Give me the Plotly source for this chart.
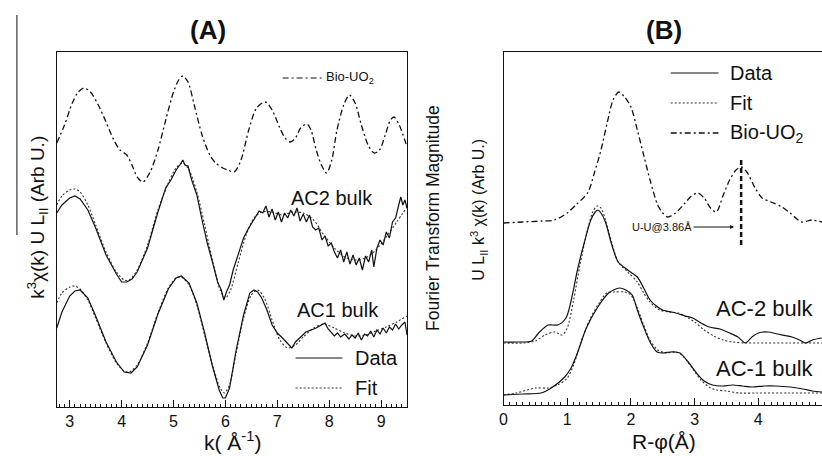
import plotly.graph_objects as go

W, H = 822, 456

# ---------------- Panel A : k^3 chi(k) ----------------
k_bio = [2.75, 2.9, 3.05, 3.15, 3.27, 3.4, 3.55, 3.7, 3.85, 3.97, 4.1, 4.2, 4.3, 4.41, 4.55, 4.7, 4.85, 5.0, 5.1, 5.18,
         5.28, 5.4, 5.55, 5.7, 5.81, 5.95, 6.05, 6.17, 6.3, 6.45, 6.6, 6.77, 6.9, 7.05, 7.15, 7.25, 7.35, 7.45, 7.57,
         7.65, 7.75, 7.85, 7.95, 8.05, 8.15, 8.28, 8.39, 8.5, 8.62, 8.75, 8.87, 8.97, 9.08, 9.18, 9.25, 9.35, 9.5]
chi_bio = [264, 282, 304, 314, 319, 315, 302, 285, 267, 257, 252, 242, 230, 225, 235, 257, 287, 315, 327, 331,
           325, 302, 272, 252, 244, 239, 237, 235, 247, 277, 299, 305, 297, 279, 269, 265, 269, 279, 283,
           277, 257, 242, 234, 247, 277, 302, 312, 304, 282, 262, 254, 257, 272, 287, 290, 282, 260]

k_ac2_fit = [2.75, 2.85, 3.0, 3.1, 3.2, 3.35, 3.5, 3.7, 3.9, 4.05, 4.15, 4.3, 4.5, 4.7, 4.9, 5.05, 5.18, 5.3, 5.45,
             5.6, 5.75, 5.9, 6.0, 6.1, 6.25, 6.4, 6.55, 6.7, 6.9, 7.1, 7.3, 7.5, 7.7, 7.9, 8.1, 8.3, 8.5, 8.7, 8.9,
             9.1, 9.3, 9.5]
chi_ac2_fit = [202, 211, 217, 218, 215, 202, 182, 155, 135, 127, 127, 137, 162, 197, 224, 239, 244, 237, 215,
               182, 147, 117, 109, 117, 145, 172, 189, 195, 195, 192, 195, 194, 187, 172, 159, 150, 147, 149, 157,
               170, 185, 200]

k_ac2_data = [2.75, 2.85, 3.0, 3.1, 3.2, 3.35, 3.5, 3.7, 3.9, 4.0, 4.1, 4.2, 4.3, 4.5, 4.7, 4.85, 4.95, 5.05, 5.12,
              5.18, 5.22, 5.28, 5.35, 5.45, 5.55, 5.65, 5.75, 5.85, 5.92, 5.97, 6.02, 6.08, 6.15, 6.25, 6.35, 6.45,
              6.55, 6.65, 6.72, 6.78, 6.84, 6.9, 6.96, 7.02, 7.08, 7.14, 7.2, 7.26, 7.32, 7.38, 7.44, 7.5, 7.56,
              7.62, 7.68, 7.74, 7.8, 7.86, 7.92, 7.98, 8.04, 8.1, 8.16, 8.22, 8.28, 8.34, 8.4, 8.46, 8.52, 8.58,
              8.64, 8.7, 8.76, 8.82, 8.86, 8.92, 8.98, 9.04, 9.1, 9.16, 9.22, 9.28, 9.34, 9.38, 9.42, 9.46, 9.5]
chi_ac2_data = [194, 202, 209, 211, 208, 197, 179, 152, 133, 125, 125, 128, 135, 159, 195, 219, 227, 237, 242,
                247, 242, 241, 227, 212, 187, 164, 145, 125, 117, 107, 115, 122, 137, 152, 169, 179,
                187, 196, 194, 201, 190, 198, 187, 195, 185, 194, 189, 197, 191, 199, 186, 193, 185,
                192, 180, 177, 179, 167, 171, 161, 164, 155, 149, 157, 145, 155, 143, 152, 142, 149,
                137, 151, 145, 157, 140, 159, 167, 162, 175, 169, 185, 189, 202, 210, 202, 207, 199]

k_ac1_fit = [2.75, 2.85, 3.0, 3.1, 3.2, 3.35, 3.5, 3.7, 3.9, 4.05, 4.15, 4.3, 4.5, 4.7, 4.9, 5.05, 5.15, 5.3, 5.45,
             5.6, 5.75, 5.9, 5.98, 6.08, 6.2, 6.35, 6.5, 6.62, 6.75, 6.9, 7.05, 7.2, 7.35, 7.5, 7.7, 7.9, 8.1, 8.3,
             8.5, 8.7, 8.9, 9.1, 9.3, 9.5]
chi_ac1_fit = [104, 114, 120, 121, 118, 107, 89, 64, 44, 36, 35, 42, 64, 94, 119, 129, 130, 122, 102,
               72, 42, 19, 14, 22, 52, 89, 112, 117, 109, 87, 67, 59, 62, 70, 79, 83, 79, 74,
               71, 72, 76, 80, 85, 91]

k_ac1_data = [2.75, 2.85, 3.0, 3.1, 3.2, 3.35, 3.5, 3.7, 3.9, 4.05, 4.18, 4.3, 4.5, 4.7, 4.9, 5.05, 5.15, 5.3, 5.45,
              5.6, 5.75, 5.88, 5.95, 6.0, 6.08, 6.2, 6.35, 6.47, 6.55, 6.62, 6.7, 6.8, 6.9, 7.0, 7.1, 7.2, 7.28,
              7.35, 7.45, 7.55, 7.65, 7.75, 7.85, 7.92, 7.98, 8.04, 8.1, 8.16, 8.22, 8.3, 8.38, 8.44, 8.5, 8.56,
              8.62, 8.68, 8.74, 8.8, 8.86, 8.92, 8.98, 9.04, 9.1, 9.16, 9.22, 9.28, 9.34, 9.4, 9.46, 9.5]
chi_ac1_data = [79, 95, 111, 116, 117, 109, 91, 65, 45, 35, 34, 40, 62, 93, 118, 129, 131, 124, 104,
                74, 41, 17, 9, 9, 19, 55, 92, 114, 117, 115, 109, 97, 82, 74, 69, 64, 59,
                65, 70, 75, 77, 79, 82, 84, 78, 75, 71, 74, 70, 73, 68, 72, 69, 74,
                67, 73, 71, 76, 70, 77, 73, 79, 74, 80, 77, 83, 78, 82, 85, 72]

k_ticks = [3, 4, 5, 6, 7, 8, 9]

# ---------------- Panel B : Fourier transform magnitude ----------------
r_bio = [0, 0.3, 0.6, 0.8, 1.0, 1.15, 1.32, 1.43, 1.53, 1.63, 1.72, 1.81, 1.9, 2.0, 2.1, 2.2, 2.3, 2.42, 2.5, 2.58,
         2.7, 2.85, 2.95, 3.05, 3.15, 3.25, 3.34, 3.45, 3.55, 3.65, 3.73, 3.82, 3.95, 4.06, 4.2, 4.37, 4.5, 4.68,
         4.84, 5.0]
ft_bio = [182, 183, 184, 185, 192, 201, 212, 233, 255, 283, 305, 313, 308, 298, 275, 250, 225, 200, 192, 188,
          192, 202, 209, 212, 207, 197, 193, 210, 225, 235, 238, 233, 217, 207, 203, 198, 192, 183,
          185, 183]

r_ac2_data = [0, 0.2, 0.44, 0.55, 0.7, 0.85, 0.98, 1.08, 1.16, 1.27, 1.37, 1.44, 1.48, 1.53, 1.6, 1.7, 1.8, 1.95,
              2.1, 2.2, 2.3, 2.4, 2.5, 2.7, 2.85, 2.97, 3.1, 3.23, 3.4, 3.55, 3.68, 3.8, 3.9, 4.0, 4.15, 4.3,
              4.53, 4.65, 4.74, 4.85, 5.0]
ft_ac2_data = [63, 63, 64, 72, 80, 80, 87, 110, 135, 163, 185, 193, 195, 192, 183, 160, 143, 135,
               128, 117, 105, 99, 95, 92, 89, 87, 82, 78, 76, 72, 68, 62, 68, 72, 73, 71,
               68, 65, 62, 65, 67]

r_ac2_fit = [0, 0.3, 0.5, 0.65, 0.8, 0.92, 1.0, 1.1, 1.2, 1.3, 1.4, 1.47, 1.53, 1.6, 1.7, 1.8, 1.95, 2.1, 2.2,
             2.3, 2.45, 2.6, 2.75, 2.9, 3.0, 3.15, 3.3, 3.45, 3.6, 3.8, 4.0, 4.5, 5.0]
ft_ac2_fit = [62, 62, 64, 70, 73, 70, 77, 105, 140, 170, 193, 199, 197, 185, 162, 143, 133, 123, 112,
              103, 95, 93, 92, 87, 83, 75, 69, 65, 63, 62, 62, 62, 62]

r_ac1_data = [0, 0.3, 0.59, 0.75, 0.96, 1.06, 1.16, 1.3, 1.48, 1.65, 1.82, 1.92, 2.02, 2.1, 2.2, 2.3, 2.41, 2.5,
              2.61, 2.7, 2.77, 2.9, 3.03, 3.15, 3.28, 3.45, 3.59, 3.75, 3.9, 4.1, 4.27, 4.5, 4.7, 4.85, 5.0]
ft_ac1_data = [10, 11, 12, 17, 28, 37, 52, 77, 98, 112, 117, 115, 110, 95, 78, 63, 53, 52,
               53, 53, 52, 43, 32, 24, 20, 19, 20, 19, 18, 19, 19, 18, 16, 14, 13]

r_ac1_fit = [0, 0.2, 0.5, 0.7, 0.85, 1.0, 1.1, 1.2, 1.35, 1.5, 1.62, 1.75, 1.9, 2.0, 2.1, 2.2, 2.3, 2.42, 2.55,
             2.7, 2.8, 2.95, 3.1, 3.25, 3.35, 3.5, 3.7, 4.0, 4.5, 5.0]
ft_ac1_fit = [10, 12, 17, 17, 20, 27, 40, 60, 85, 102, 112, 113, 113, 110, 97, 80, 65, 55, 52,
              53, 50, 38, 25, 17, 15, 14, 12, 12, 12, 12]

r_ticks = [0, 1, 2, 3, 4, 5]
uu_marker_r = 3.73
uu_marker_span = [160, 245]
uu_arrow_point = [3.62, 178]

FONT = "Liberation Sans"
BLACK = "#111111"
SOLID = dict(color=BLACK, width=1.2)
FIT = dict(color="#333333", width=1.1, dash="2px,2px")
DASHDOT = dict(color=BLACK, width=1.3, dash="6px,3px,2px,3px")


def px(x):
    return x / W


def py(y):
    return 1 - y / H


fig = go.Figure()

def add(x, y, line, xa, ya, shape="spline"):
    ln = dict(**line, shape=shape)
    if shape == "spline":
        ln["smoothing"] = 0.8
    fig.add_trace(go.Scatter(x=x, y=y, mode="lines", line=ln,
                             xaxis=xa, yaxis=ya, showlegend=False, hoverinfo="skip"))

# Panel A
add(k_bio, chi_bio, DASHDOT, "x", "y")
add(k_ac2_fit, chi_ac2_fit, FIT, "x", "y")
add(k_ac2_data, chi_ac2_data, SOLID, "x", "y", shape="linear")
add(k_ac1_fit, chi_ac1_fit, FIT, "x", "y")
add(k_ac1_data, chi_ac1_data, SOLID, "x", "y", shape="linear")

# Panel B
add(r_bio, ft_bio, DASHDOT, "x2", "y2")
add(r_ac2_fit, ft_ac2_fit, FIT, "x2", "y2")
add(r_ac2_data, ft_ac2_data, SOLID, "x2", "y2")
add(r_ac1_fit, ft_ac1_fit, FIT, "x2", "y2")
add(r_ac1_data, ft_ac1_data, SOLID, "x2", "y2")

axis_common = dict(showgrid=False, zeroline=False, showline=True, linecolor=BLACK, linewidth=1)
minor = dict(dtick=0.1, ticks="inside", ticklen=3, tickcolor=BLACK)

fig.update_layout(
    width=W, height=H, margin=dict(l=0, r=0, t=0, b=0),
    paper_bgcolor="white", plot_bgcolor="white",
    font=dict(family=FONT, color=BLACK),
    xaxis=dict(**axis_common, domain=[px(53), px(405)], range=[2.75, 9.5], anchor="y",
               tickvals=k_ticks, ticks="inside", ticklen=7, tickcolor=BLACK, mirror=True,
               minor=minor, tickfont=dict(size=16)),
    yaxis=dict(**axis_common, domain=[py(407), py(52)], range=[0, 355], anchor="x",
               showticklabels=False, ticks="", mirror=True),
    xaxis3=dict(showgrid=False, zeroline=False, showline=False, overlaying="x", side="top", anchor="y",
                range=[2.75, 9.5], tickvals=k_ticks, ticks="inside", ticklen=6, tickcolor=BLACK,
                minor=minor, showticklabels=False),
    xaxis2=dict(**axis_common, domain=[px(502), 1.0], range=[0, 5], anchor="y2",
                tickvals=r_ticks, ticks="inside", ticklen=7, tickcolor=BLACK, mirror=True,
                minor=minor, tickfont=dict(size=16)),
    xaxis4=dict(showgrid=False, zeroline=False, showline=False, overlaying="x2", side="top", anchor="y2",
                range=[0, 5], tickvals=r_ticks, ticks="inside", ticklen=6, tickcolor=BLACK,
                minor=minor, showticklabels=False),
    yaxis2=dict(**axis_common, domain=[py(405), py(52)], range=[0, 353], anchor="x2",
                showticklabels=False, ticks=""),
)

ann = []
def text(x, y, s, size, angle=0, xanchor="center"):
    ann.append(dict(x=px(x), y=py(y), xref="paper", yref="paper", text=s, showarrow=False,
                    font=dict(size=size, family=FONT, color=BLACK), textangle=angle,
                    xanchor=xanchor, yanchor="middle"))

# Titles
text(205, 30, "<b>(A)</b>", 26)
text(663, 30, "<b>(B)</b>", 26)
# Axis titles
text(230, 441, "k( Å<sup>-1</sup>)", 21)
text(663, 441, "R-φ(Å)", 21)
text(33, 217, "k<sup>3</sup>χ(k) U L<sub>II</sub> (Arb U.)", 19, angle=-90)
text(431, 218, "Fourier Transform Magnitude", 17.5, angle=-90)
text(477, 210, "U L<sub>II</sub> k<sup>3</sup> χ(k) (Arb U.)", 16, angle=-90)
# Curve labels
text(330, 198, "AC2 bulk", 20)
text(336, 310, "AC1 bulk", 20)
text(765, 308, "AC-2 bulk", 22)
text(765, 368, "AC-1 bulk", 22)

# Legends (left panel)
text(322, 78, "Bio-UO<sub>2</sub>", 13, xanchor="left")
text(351, 358, "Data", 20, xanchor="left")
text(351, 388, "Fit", 20, xanchor="left")
# Legends (right panel)
text(728, 73, "Data", 20, xanchor="left")
text(728, 103, "Fit", 20, xanchor="left")
text(728, 133, "Bio-UO<sub>2</sub>", 20, xanchor="left")

# U-U annotation with arrow
ann.append(dict(x=uu_arrow_point[0], y=uu_arrow_point[1], xref="x2", yref="y2",
                text="U-U@3.86Å", showarrow=True, arrowhead=2, arrowsize=0.8, arrowwidth=1,
                arrowcolor=BLACK, ax=-72, ay=0, font=dict(size=11, family=FONT, color=BLACK)))
fig.update_layout(annotations=ann)

shapes = []
def seg(x0, y0, x1, y1, line):
    shapes.append(dict(type="line", xref="paper", yref="paper", x0=px(x0), y0=py(y0), x1=px(x1), y1=py(y1),
                       line=line))

seg(280, 78, 320, 78, dict(color=BLACK, width=1.2, dash="6px,3px,2px,3px"))
seg(293, 358, 340, 358, dict(color=BLACK, width=1.2))
seg(293, 388, 340, 388, dict(color="#333333", width=1.1, dash="2px,2px"))
seg(670, 73, 718, 73, dict(color=BLACK, width=1.2))
seg(670, 103, 718, 103, dict(color="#333333", width=1.1, dash="2px,2px"))
seg(670, 133, 718, 133, dict(color=BLACK, width=1.3, dash="6px,3px,2px,3px"))
# overline of the left axis title
seg(13, 15, 13, 235, dict(color=BLACK, width=1))
# U-U marker (dashed vertical)
shapes.append(dict(type="line", xref="x2", yref="y2", x0=uu_marker_r, x1=uu_marker_r,
                   y0=uu_marker_span[0], y1=uu_marker_span[1], line=dict(color=BLACK, width=2.5, dash="5px,3px")))
fig.update_layout(shapes=shapes)

fig.write_html("out.html", config={"displayModeBar": False},
               post_script="document.body.style.margin='0';document.body.style.overflow='hidden';")
